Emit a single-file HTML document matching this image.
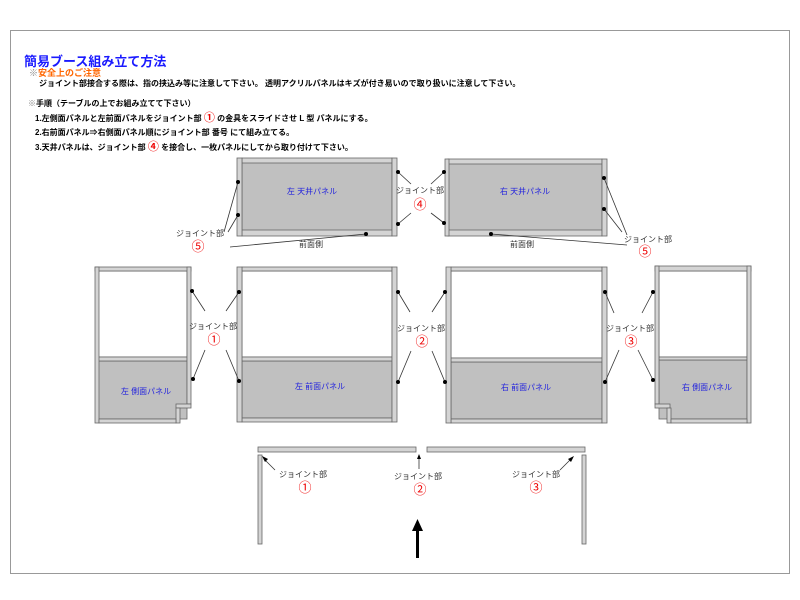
<!DOCTYPE html>
<html><head><meta charset="utf-8"><style>
html,body{margin:0;padding:0;background:#fff;}
svg{display:block;font-family:"Liberation Sans","Noto Sans CJK JP",sans-serif;}
.p{fill:#d4d4d4;stroke:#666;stroke-width:0.8}
.g{fill:#c0c0c0;stroke:#666;stroke-width:0.8}
.w{fill:#fff;stroke:#666;stroke-width:0.8}
.l{stroke:#333;stroke-width:0.8;fill:none}
.lb{font-size:8px;fill:#333;text-anchor:middle}
.n{font-size:13px;fill:#e00;text-anchor:middle}
.bl{font-size:8px;fill:#22d;text-anchor:middle}
.t{font-size:8px;fill:#000}
</style></head><body>
<svg width="800" height="600" viewBox="0 0 800 600">
<rect x="10.5" y="30.5" width="779" height="543" fill="#fff" stroke="#999"/>
<text x="24" y="66" font-size="13" font-weight="bold" fill="#1a1aff">簡易ブース組み立て方法</text>
<text x="29" y="76" font-size="9" font-weight="bold" fill="#ff6600"><tspan fill="#888">※</tspan>安全上のご注意</text>
<text x="39" y="86" class="t" font-weight="bold">ジョイント部接合する際は、指の挟込み等に注意して下さい。 透明アクリルパネルはキズが付き易いので取り扱いに注意して下さい。</text>
<text x="28" y="106" class="t" font-weight="bold"><tspan fill="#888">※</tspan>手順（テーブルの上でお組み立てて下さい）</text>
<text x="35" y="121" class="t" font-weight="bold">1.左側面パネルと左前面パネルをジョイント部 <tspan fill="#e00" font-size="11">①</tspan> の金具をスライドさせ L 型 パネルにする。</text>
<text x="35" y="135" class="t" font-weight="bold">2.右前面パネル⇒右側面パネル順にジョイント部 番号 にて組み立てる。</text>
<text x="35" y="150" class="t" font-weight="bold">3.天井パネルは、ジョイント部 <tspan fill="#e00" font-size="11">④</tspan> を接合し、一枚パネルにしてから取り付けて下さい。</text>

<!-- ceiling panels -->
<rect class="p" x="242" y="158" width="150" height="78"/>
<rect class="g" x="242" y="163" width="150" height="67"/>
<rect class="p" x="237" y="158" width="5" height="78"/>
<rect class="p" x="392" y="158" width="5" height="78"/>
<text class="bl" x="312" y="194">左 天井パネル</text>
<rect class="p" x="448" y="159" width="154" height="77"/>
<rect class="g" x="448" y="164" width="154" height="66"/>
<rect class="p" x="445" y="159" width="4" height="77"/>
<rect class="p" x="602" y="159" width="5" height="77"/>
<text class="bl" x="525" y="194">右 天井パネル</text>
<g class="l">
<line x1="238" y1="182" x2="224" y2="232"/><line x1="238" y1="215" x2="228" y2="232"/>
<line x1="366" y1="234" x2="230" y2="247"/>
<line x1="398" y1="172" x2="411" y2="184"/><line x1="398" y1="224" x2="411" y2="213"/>
<line x1="444" y1="172" x2="431" y2="184"/><line x1="444" y1="223" x2="431" y2="213"/>
<line x1="604" y1="178" x2="627" y2="235"/><line x1="604" y1="209" x2="622" y2="232"/>
<line x1="491" y1="234" x2="627" y2="245"/>
</g>
<g fill="#000">
<circle cx="238" cy="182" r="2"/><circle cx="238" cy="215" r="2"/><circle cx="366" cy="234" r="2"/>
<circle cx="398" cy="172" r="2"/><circle cx="398" cy="224" r="2"/><circle cx="444" cy="172" r="2"/><circle cx="444" cy="223" r="2"/>
<circle cx="604" cy="178" r="2"/><circle cx="604" cy="209" r="2"/><circle cx="491" cy="234" r="2"/>
</g>
<text class="lb" x="200" y="236">ジョイント部</text><text class="n" x="198" y="251">⑤</text>
<text class="lb" x="311" y="247">前面側</text><text class="lb" x="522" y="247">前面側</text>
<text class="lb" x="420" y="193">ジョイント部</text><text class="n" x="420" y="209">④</text>
<text class="lb" x="648" y="242">ジョイント部</text><text class="n" x="645" y="256">⑤</text>

<!-- left side panel -->
<rect class="w" x="98" y="271" width="89" height="86"/>
<rect class="g" x="98" y="361" width="89" height="58"/>
<rect class="p" x="98" y="357" width="89" height="4"/>
<rect class="p" x="95" y="267" width="96" height="4"/>
<rect class="p" x="95" y="267" width="4" height="156"/>
<rect class="p" x="187" y="267" width="4" height="137"/>
<rect class="p" x="176" y="404" width="15" height="4"/>
<rect class="p" x="176" y="408" width="4" height="15"/>
<rect class="p" x="99" y="419" width="77" height="4"/>
<text class="bl" x="146" y="394">左 側面パネル</text>
<!-- left front -->
<rect class="w" x="242" y="271" width="150" height="86"/>
<rect class="g" x="242" y="361" width="150" height="57"/>
<rect class="p" x="242" y="357" width="150" height="4"/>
<rect class="p" x="242" y="267" width="150" height="4"/>
<rect class="p" x="242" y="418" width="150" height="4"/>
<rect class="p" x="237" y="267" width="5" height="155"/>
<rect class="p" x="392" y="267" width="5" height="155"/>
<text class="bl" x="320" y="389">左 前面パネル</text>
<!-- right front -->
<rect class="w" x="451" y="271" width="151" height="87"/>
<rect class="g" x="451" y="362" width="151" height="57"/>
<rect class="p" x="451" y="358" width="151" height="4"/>
<rect class="p" x="451" y="267" width="151" height="4"/>
<rect class="p" x="451" y="419" width="151" height="4"/>
<rect class="p" x="446" y="267" width="5" height="156"/>
<rect class="p" x="602" y="267" width="5" height="156"/>
<text class="bl" x="526" y="390">右 前面パネル</text>
<!-- right side -->
<rect class="w" x="659" y="271" width="88" height="86"/>
<rect class="g" x="659" y="360" width="88" height="59"/>
<rect class="p" x="659" y="357" width="88" height="3"/>
<rect class="p" x="655" y="266" width="96" height="5"/>
<rect class="p" x="655" y="266" width="4" height="138"/>
<rect class="p" x="747" y="266" width="4" height="157"/>
<rect class="p" x="655" y="404" width="15" height="4"/>
<rect class="p" x="667" y="408" width="4" height="15"/>
<rect class="p" x="671" y="419" width="76" height="4"/>
<text class="bl" x="707" y="390">右 側面パネル</text>

<g class="l">
<line x1="192" y1="291" x2="205" y2="311"/><line x1="193" y1="379" x2="205" y2="350"/>
<line x1="239" y1="292" x2="226" y2="311"/><line x1="239" y1="381" x2="226" y2="350"/>
<line x1="398" y1="292" x2="410" y2="312"/><line x1="398" y1="382" x2="411" y2="351"/>
<line x1="445" y1="292" x2="432" y2="312"/><line x1="445" y1="382" x2="432" y2="351"/>
<line x1="605" y1="292" x2="614" y2="313"/><line x1="605" y1="382" x2="619" y2="350"/>
<line x1="653" y1="292" x2="642" y2="313"/><line x1="653" y1="380" x2="638" y2="350"/>
</g>
<g fill="#000">
<circle cx="192" cy="291" r="2"/><circle cx="193" cy="379" r="2"/><circle cx="239" cy="292" r="2"/><circle cx="239" cy="381" r="2"/>
<circle cx="398" cy="292" r="2"/><circle cx="398" cy="382" r="2"/><circle cx="445" cy="292" r="2"/><circle cx="445" cy="382" r="2"/>
<circle cx="605" cy="292" r="2"/><circle cx="605" cy="382" r="2"/><circle cx="653" cy="292" r="2"/><circle cx="653" cy="380" r="2"/>
</g>
<text class="lb" x="213" y="329">ジョイント部</text><text class="n" x="214" y="344">①</text>
<text class="lb" x="421" y="331">ジョイント部</text><text class="n" x="422" y="346">②</text>
<text class="lb" x="630" y="331">ジョイント部</text><text class="n" x="631" y="346">③</text>

<!-- bottom plan -->
<rect class="p" x="258" y="447" width="158" height="5"/>
<rect class="p" x="427" y="447" width="158" height="5"/>
<rect class="p" x="258" y="455" width="4" height="89"/>
<rect class="p" x="582" y="455" width="4" height="89"/>
<g class="l">
<line x1="275" y1="470" x2="264" y2="459"/><line x1="419" y1="469" x2="419" y2="458"/><line x1="560" y1="470" x2="571" y2="459"/>
</g>
<g fill="#000">
<polygon points="262,456 268,459 265,462"/>
<polygon points="419,454 417,459 421,459"/>
<polygon points="574,456 568,459 571,462"/>
<rect x="416" y="528" width="3" height="30"/>
<polygon points="417.5,519 412,531 423,531"/>
</g>
<text class="lb" x="303" y="477">ジョイント部</text><text class="n" x="305" y="492">①</text>
<text class="lb" x="418" y="479">ジョイント部</text><text class="n" x="420" y="494">②</text>
<text class="lb" x="536" y="477">ジョイント部</text><text class="n" x="536" y="492">③</text>
</svg>
</body></html>
